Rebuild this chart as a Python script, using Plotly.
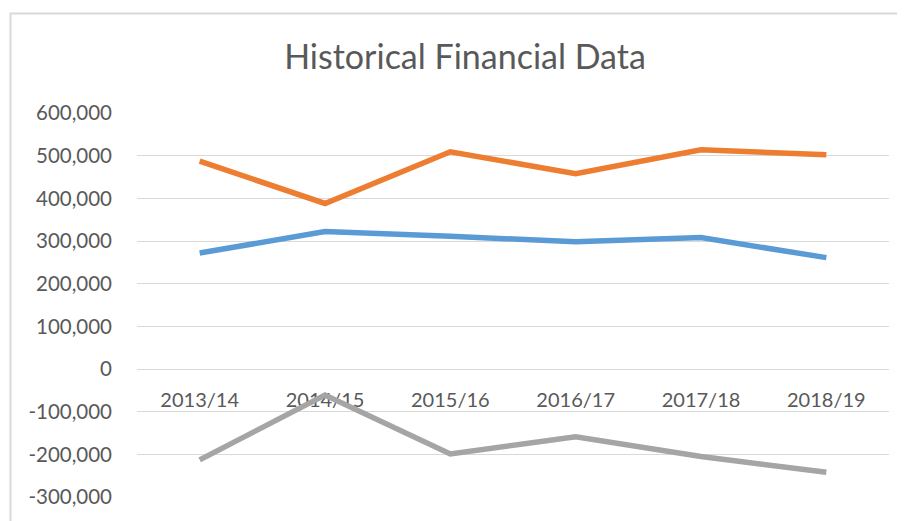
import plotly.graph_objects as go

categories = ["2013/14", "2014/15", "2015/16", "2016/17", "2017/18", "2018/19"]
series_blue = [272000, 322000, 311000, 298000, 308000, 261000]
series_orange = [487000, 388000, 509000, 458000, 514000, 502000]
series_gray = [-213000, -61000, -199000, -159000, -205000, -242000]
y_tick_values = [-300000, -200000, -100000, 0, 100000, 200000, 300000, 400000, 500000, 600000]
y_tick_labels = ["-300,000", "-200,000", "-100,000", "0", "100,000", "200,000",
                 "300,000", "400,000", "500,000", "600,000"]

OFF = 8  # default body margin of the page
W, H = 905 - OFF, 521 - OFF
L, R, T, B = 137 - OFF, 889 - OFF, 113 - OFF, 497 - OFF
ymin, ymax = -300000, 600000

fig = go.Figure()
for vals, col in [(series_blue, "#5B9BD5"), (series_orange, "#ED7D31"), (series_gray, "#A5A5A5")]:
    fig.add_trace(go.Scatter(x=categories, y=vals, mode="lines",
                             line=dict(color=col, width=5.5),
                             hoverinfo="x+y", showlegend=False))

zero_pos = (0 - ymin) / (ymax - ymin)

fig.update_layout(
    width=W, height=H,
    margin=dict(l=L, r=W - R, t=T, b=H - B, autoexpand=False),
    paper_bgcolor="white", plot_bgcolor="white",
    font=dict(family="Lato, sans-serif", color="#595959"),
    title=dict(text="Historical Financial Data", x=(465 - OFF) / W, xanchor="center",
               xref="container",
               y=1 - (57 - OFF) / H, yanchor="middle",
               font=dict(size=34, color="#595959", family="Lato, sans-serif")),
    xaxis=dict(anchor="free", position=zero_pos, showgrid=False, zeroline=False,
               range=[-0.5, 5.5], automargin=False,
               showline=False, ticks="", tickfont=dict(size=20, color="#595959"),
               layer="below traces", ticklabelstandoff=17),
    yaxis=dict(range=[ymin, ymax], tickmode="array", tickvals=y_tick_values,
               ticktext=y_tick_labels, automargin=False,
               showgrid=True, gridcolor="#D9D9D9", gridwidth=1.3, zeroline=False,
               showline=False, ticks="", tickfont=dict(size=20.5, color="#595959"),
               ticklabelstandoff=24),
    shapes=[dict(type="rect", xref="paper", yref="paper",
                 x0=(10.5 - OFF - L) / (R - L), x1=(W + 5 - L) / (R - L),
                 y0=(B - (H + 10)) / (B - T), y1=(B - (13.5 - OFF)) / (B - T),
                 line=dict(color="#D9D9D9", width=2), layer="below")],
)

fig.write_html("out.html")
